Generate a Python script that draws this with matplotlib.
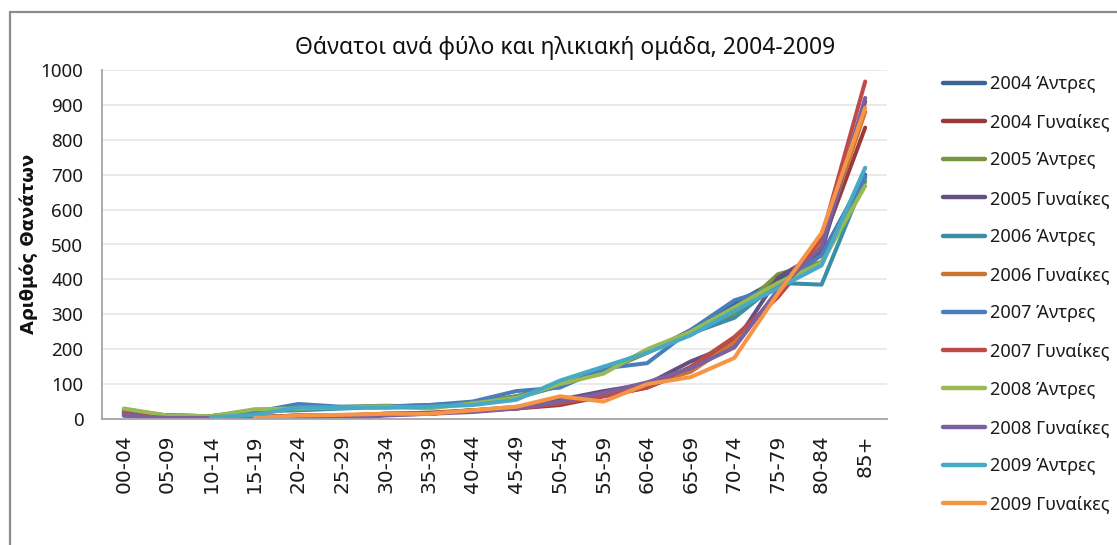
import numpy as np
import matplotlib
matplotlib.use("Agg")
import matplotlib.pyplot as plt
from matplotlib.patches import Rectangle

nan = np.nan
age_groups = ["00-04", "05-09", "10-14", "15-19", "20-24", "25-29", "30-34", "35-39",
              "40-44", "45-49", "50-54", "55-59", "60-64", "65-69", "70-74", "75-79",
              "80-84", "85+"]

series_names = ["2004 Άντρες", "2004 Γυναίκες", "2005 Άντρες", "2005 Γυναίκες",
                "2006 Άντρες", "2006 Γυναίκες", "2007 Άντρες", "2007 Γυναίκες",
                "2008 Άντρες", "2008 Γυναίκες", "2009 Άντρες", "2009 Γυναίκες"]

m2004 = [20, 10, 8, 22, 30, 33, 36, 40, 45, 65, 95, 140, 190, 255, 330, 400, 470, 700]
w2004 = [15, 5, 5, 5, 10, 8, 15, 18, 25, 30, 40, 65, 90, 140, 230, 350, 500, 835]
m2005 = [28, 10, 8, 25, 28, 35, 38, 35, 45, 65, 100, 135, 190, 245, 300, 415, 450, 680]
w2005 = [10, 2, 2, 2, 5, 0, 12, 15, 25, 30, 55, 80, 100, 165, 215, 405, 480, 910]
m2006 = [22, 10, 8, 22, 25, 30, 35, 38, 42, 60, 95, 140, 195, 245, 290, 390, 385, 690]
w2006 = [15, 5, 5, 5, 10, 10, 15, 15, 25, 35, 45, 70, 100, 135, 220, 360, 510, 880]
m2007 = [20, 10, 8, 20, 43, 35, 35, 40, 50, 80, 90, 145, 160, 255, 340, 380, 470, 695]
w2007 = [15, 5, 5, 5, 10, 10, 15, 15, 25, 30, 45, 65, 90, 150, 235, 350, 520, 967]
m2008 = [30, 10, 8, 28, 30, 33, 36, 30, 45, 60, 100, 130, 200, 250, 320, 390, 447, 668]
w2008 = [10, 3, 3, 3, 5, 0, 10, 15, 20, 30, 50, 75, 105, 145, 205, 370, 493, 920]
m2009 = [nan, nan, 5, 12, 33, 33, 32, 35, 40, 55, 110, 150, 190, 240, 310, 375, 440, 720]
w2009 = [nan, nan, nan, 3, 10, 12, 15, 15, 25, 35, 65, 50, 100, 120, 175, 360, 533, 892]

series_values = [m2004, w2004, m2005, w2005, m2006, w2006,
                 m2007, w2007, m2008, w2008, m2009, w2009]
colors = ["#3A6396", "#983A38", "#7A9540", "#634F80", "#3A8EA5", "#CC7530",
          "#4A7EBB", "#BE4B48", "#98B954", "#7D60A0", "#46AAC5", "#F69546"]

W, H = 1117, 545
fig = plt.figure(figsize=(W / 100, H / 100), dpi=100)
fig.patch.set_facecolor("white")

# outer frame
fig.patches.append(Rectangle((10 / W, -0.05), 1.2, 1 - 12 / H + 0.05, transform=fig.transFigure,
                             fill=False, edgecolor="#8C8C8C", linewidth=1.6))
# heading of the page, cut off by the top edge as in the reference
fig.text(-2 / W, 1 + 4 / H, "Διάγραμμα 3: Θάνατοι ανά φύλο και ηλικιακή ομάδα",
         color="#4A7EBB", fontsize=15, fontweight="bold", family=["DejaVu Sans"],
         va="baseline", ha="left")

ax = fig.add_axes([102 / W, 1 - 419 / H, (887 - 102) / W, (419 - 70) / H])
x = np.arange(len(age_groups))
for name, vals, c in zip(series_names, series_values, colors):
    ax.plot(x, vals, color=c, linewidth=2.9, label=name, solid_capstyle="round",
            solid_joinstyle="round")

ax.set_xlim(-0.5, len(age_groups) - 0.5)
ax.set_ylim(0, 1000)
ax.set_yticks(range(0, 1001, 100))
ax.set_xticks(x)
ax.set_xticklabels(age_groups, rotation=90, fontsize=14.5, family="DejaVu Sans", color="#1a1a1a")
for lab in ax.get_yticklabels():
    lab.set_family("Noto Sans")
ax.tick_params(axis="y", length=0, pad=13.5, labelsize=13.5, labelcolor="#1a1a1a")
ax.tick_params(axis="x", length=0, pad=11)
ax.grid(axis="y", color="#E8E8E8", linewidth=1.3)
ax.set_axisbelow(True)
for s in ["top", "right"]:
    ax.spines[s].set_visible(False)
for s in ["left", "bottom"]:
    ax.spines[s].set_color("#A6A6A6")
    ax.spines[s].set_linewidth(1.3)

fig.text(565 / W, 1 - 48 / H, "Θάνατοι ανά φύλο και ηλικιακή ομάδα, 2004-2009",
         ha="center", va="center", fontsize=16.5, family="Noto Sans", color="#111111")
fig.text(29 / W, 1 - 244 / H, "Αριθμός Θανάτων", rotation=90, ha="center", va="center",
         fontsize=13, fontweight="bold", family="DejaVu Sans", color="#111111")

leg = fig.legend(loc="upper left", bbox_to_anchor=(943 / W, 1 - 75 / H), frameon=False,
                 prop={"family": "Noto Sans", "size": 13}, handlelength=2.3,
                 handletextpad=0.3, labelspacing=1.12, borderaxespad=0, borderpad=0)
for line in leg.get_lines():
    line.set_linewidth(3.2)
for t in leg.get_texts():
    t.set_color("#1a1a1a")

fig.savefig("out.png", dpi=100)
